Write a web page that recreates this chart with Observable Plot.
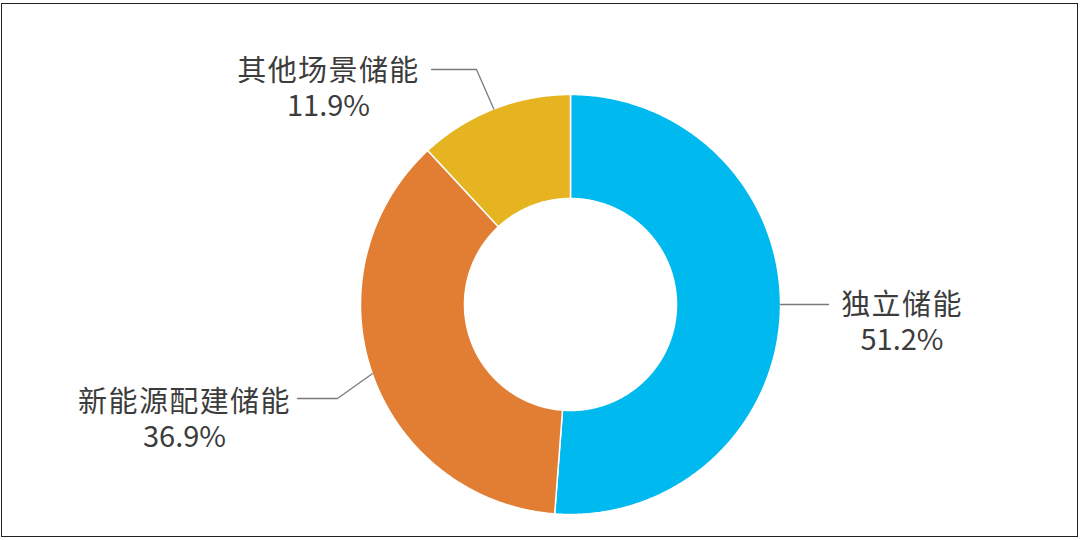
<!DOCTYPE html>
<html>
<head>
<meta charset="utf-8">
<script src="https://cdn.jsdelivr.net/npm/d3@7"></script>
<script src="https://cdn.jsdelivr.net/npm/@observablehq/plot@0.6"></script>
<style>
  html, body { margin: 0; padding: 0; background: #fff; }
  #wrap { position: relative; width: 1080px; height: 540px; overflow: hidden; }
  #chart { position: absolute; left: 0; top: 0; }
  #border { position: absolute; left: 1px; top: 3px; width: 1075px; height: 532px; border: 1.6px solid #222; pointer-events: none; }
</style>
</head>
<body>
<div id="wrap"><div id="chart"></div><div id="border"></div></div>
<script>
// ---- data ----
const categories = ["独立储能", "新能源配建储能", "其他场景储能"];
const shares = [51.2, 36.9, 11.9];
const pctLabels = ["51.2%", "36.9%", "11.9%"];
const colors = ["#00B9EF", "#E27E33", "#E6B420"];

// ---- layout (positions, not data) ----
const donut = {cx: 570, cy: 304, R: 210, r: 106};
const fontSize = 29;
const lineGap = 35;
const labelLayout = [
  {x: 901.5, y: 320.5, attachY: 304, end: [828, 304]},
  {x: 184, y: 417.5, elbow: [337, 398], end: [297, 398]},
  {x: 328, y: 87, elbow: [476, 69], end: [431, 69]}
];

const total = d3.sum(shares);
const pt = (rad, a) => ({x: donut.cx + rad * Math.sin(a), y: donut.cy - rad * Math.cos(a)});

// build slice polygons from the data
const slicePts = [];
const mids = [];
let acc = 0;
shares.forEach((v, i) => {
  const a0 = acc / total * 2 * Math.PI;
  acc += v;
  const a1 = acc / total * 2 * Math.PI;
  mids.push((a0 + a1) / 2);
  const n = Math.max(8, Math.ceil((a1 - a0) / (Math.PI / 360)));
  for (let k = 0; k <= n; k++) {
    const a = a0 + (a1 - a0) * k / n;
    slicePts.push({cat: categories[i], ...pt(donut.R, a)});
  }
  for (let k = n; k >= 0; k--) {
    const a = a0 + (a1 - a0) * k / n;
    slicePts.push({cat: categories[i], ...pt(donut.r, a)});
  }
});

// leader lines
const leaderPts = [];
labelLayout.forEach((L, i) => {
  let start;
  if (L.attachY != null) {
    const dy = L.attachY - donut.cy;
    start = {x: donut.cx + Math.sqrt(donut.R * donut.R - dy * dy), y: L.attachY};
  } else {
    start = pt(donut.R, mids[i]);
  }
  leaderPts.push({k: categories[i], x: start.x, y: start.y});
  if (L.elbow) leaderPts.push({k: categories[i], x: L.elbow[0], y: L.elbow[1]});
  leaderPts.push({k: categories[i], x: L.end[0], y: L.end[1]});
});

const labels = categories.map((c, i) => ({
  text: c + "\n" + pctLabels[i],
  x: labelLayout[i].x, y: labelLayout[i].y
}));

const font = "'Noto Sans CJK SC', 'Noto Sans', sans-serif";

const chart = Plot.plot({
  width: 1080,
  height: 540,
  margin: 0,
  x: {domain: [0, 1080], range: [0, 1080], axis: null},
  y: {domain: [0, 540], range: [0, 540], axis: null},
  color: {domain: categories, range: colors},
  style: {fontFamily: font, background: "white"},
  marks: [
    Plot.line(slicePts, {x: "x", y: "y", z: "cat", fill: "cat", stroke: "white", strokeWidth: 1.5, curve: "linear-closed"}),
    Plot.line(leaderPts, {x: "x", y: "y", z: "k", stroke: "#7a7a7a", strokeWidth: 1.3}),
    Plot.text(labels, {x: "x", y: "y", text: "text", fontSize, lineHeight: lineGap / fontSize, fill: "#3c3c3c", textAnchor: "middle", lineAnchor: "middle", fontFamily: font})
  ]
});
// widen the category-name line slightly, as in the original
d3.select(chart).selectAll("text tspan:first-child").attr("letter-spacing", "1.4px");
document.getElementById("chart").appendChild(chart);
</script>
</body>
</html>
